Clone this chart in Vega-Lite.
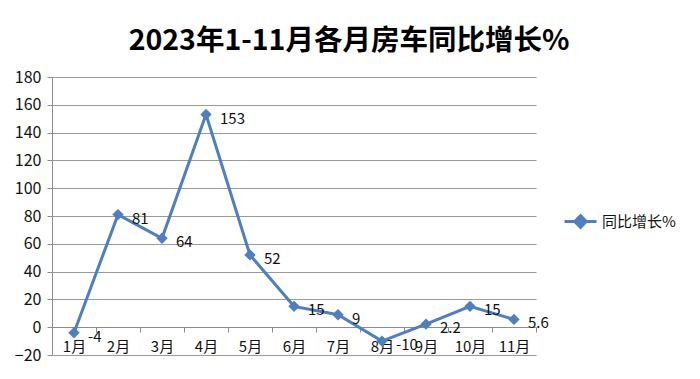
{
  "$schema": "https://vega.github.io/schema/vega-lite/v6.json",
  "width": 484,
  "height": 278,
  "autosize": {"type": "none"},
  "padding": {"left": 52, "top": 77, "right": 164, "bottom": 24},
  "background": "white",
  "title": {
    "text": "2023年1-11月各月房车同比增长%",
    "font": "Noto Sans CJK SC",
    "fontSize": 28.5,
    "fontWeight": "bold",
    "color": "#000000",
    "anchor": "middle",
    "frame": "group",
    "dx": 55,
    "offset": 14
  },
  "config": {
    "view": {"stroke": null},
    "font": "Noto Sans CJK SC"
  },
  "data": {
    "values": [
      {"month": "1月", "value": -4, "label": "-4", "series": "同比增长%"},
      {"month": "2月", "value": 81, "label": "81", "series": "同比增长%"},
      {"month": "3月", "value": 64, "label": "64", "series": "同比增长%"},
      {"month": "4月", "value": 153, "label": "153", "series": "同比增长%"},
      {"month": "5月", "value": 52, "label": "52", "series": "同比增长%"},
      {"month": "6月", "value": 15, "label": "15", "series": "同比增长%"},
      {"month": "7月", "value": 9, "label": "9", "series": "同比增长%"},
      {"month": "8月", "value": -10, "label": "-10", "series": "同比增长%"},
      {"month": "9月", "value": 2.2, "label": "2.2", "series": "同比增长%"},
      {"month": "10月", "value": 15, "label": "15", "series": "同比增长%"},
      {"month": "11月", "value": 5.6, "label": "5.6", "series": "同比增长%"}
    ]
  },
  "layer": [
    {
      "mark": {
        "type": "line",
        "strokeWidth": 3,
        "point": {"shape": "diamond", "size": 130, "filled": true, "opacity": 1}
      },
      "encoding": {
        "x": {
          "field": "month",
          "type": "nominal",
          "sort": null,
          "bandPosition": 0.5,
          "scale": {"type": "band", "paddingInner": 0, "paddingOuter": 0},
          "axis": {
            "title": null,
            "offset": -28,
            "labelAngle": 0,
            "labelFontSize": 15,
            "labelColor": "#111111",
            "labelPadding": 7,
            "labelOverlap": false,
            "domainColor": "#8c8c8c",
            "tickColor": "#8c8c8c",
            "tickSize": 5,
            "tickBand": "extent",
            "grid": false
          }
        },
        "y": {
          "field": "value",
          "type": "quantitative",
          "scale": {"domain": [-20, 180], "nice": false},
          "axis": {
            "title": null,
            "values": [-20, 0, 20, 40, 60, 80, 100, 120, 140, 160, 180],
            "tickCount": 11,
            "labelOverlap": false,
            "labelFontSize": 16,
            "labelColor": "#111111",
            "labelPadding": 6,
            "domainColor": "#8c8c8c",
            "tickColor": "#8c8c8c",
            "tickSize": 5,
            "gridColor": "#9a9a9a",
            "gridWidth": 1,
            "gridOpacity": 1
          }
        },
        "color": {
          "field": "series",
          "type": "nominal",
          "scale": {"range": ["#4f7fbf"]},
          "legend": {
            "title": null,
            "orient": "none",
            "legendX": 511,
            "legendY": 127,
            "symbolType": "M-1,0H1M-0.36,0L0,-0.36L0.36,0L0,0.36Z",
            "symbolSize": 1024,
            "symbolStrokeWidth": 3,
            "symbolFillColor": "#4f7fbf",
            "symbolStrokeColor": "#4f7fbf",
            "labelFontSize": 15,
            "labelColor": "#111111",
            "labelOffset": 4
          }
        }
      }
    },
    {
      "mark": {"type": "text", "align": "left", "baseline": "middle", "dx": 14, "dy": 4, "fontSize": 15, "color": "#111111"},
      "encoding": {
        "x": {"field": "month", "type": "nominal", "sort": null, "bandPosition": 0.5},
        "y": {"field": "value", "type": "quantitative"},
        "text": {"field": "label"}
      }
    }
  ]
}
